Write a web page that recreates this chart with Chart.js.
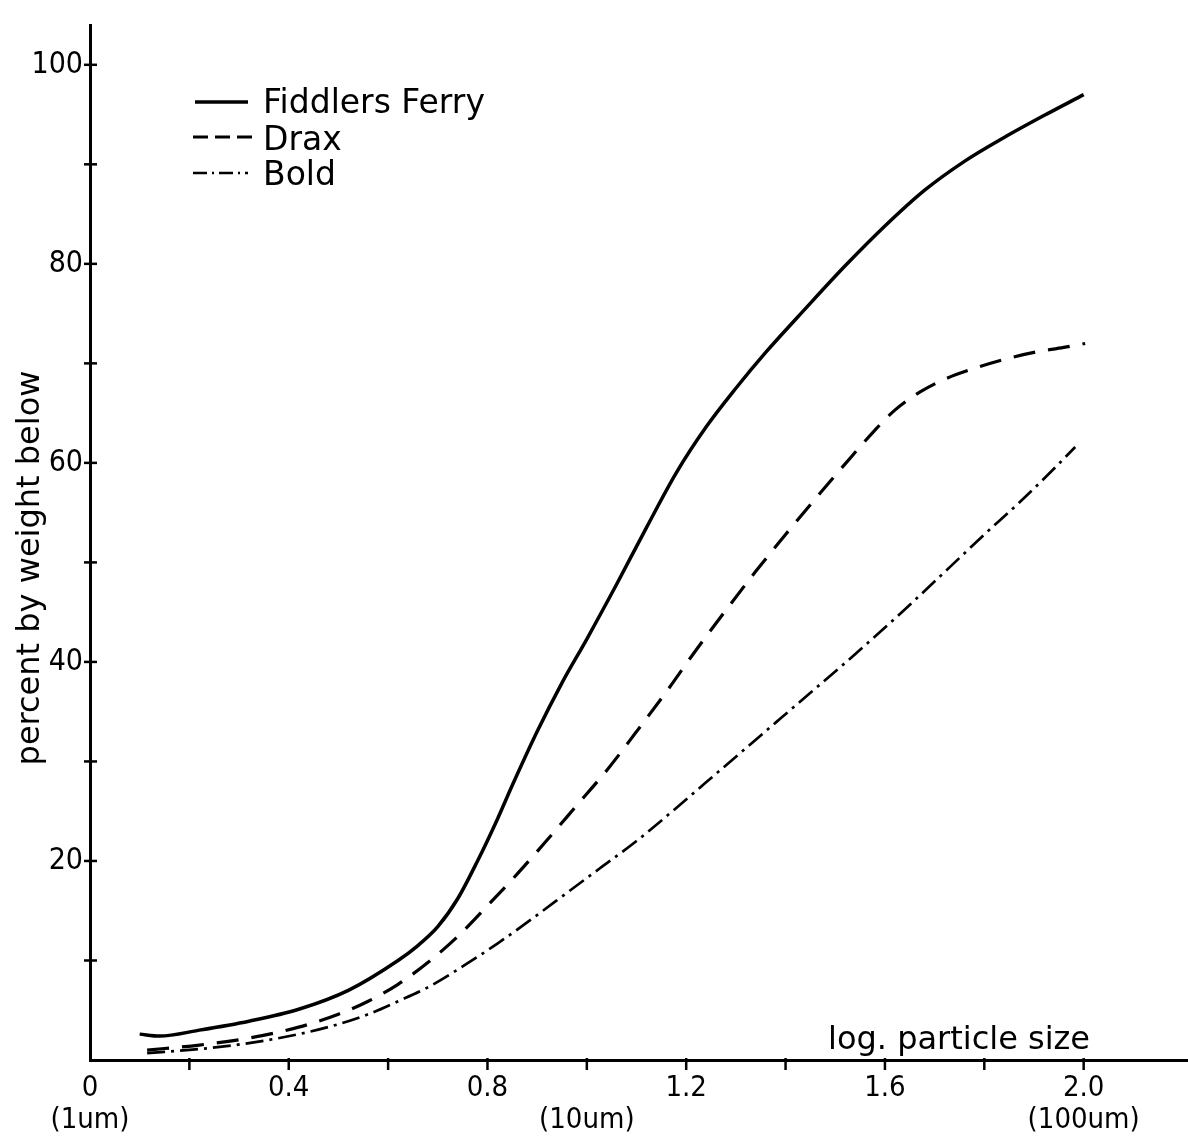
<!DOCTYPE html>
<html>
<head>
<meta charset="utf-8">
<title>Particle size distribution</title>
<script src="https://cdn.jsdelivr.net/npm/chart.js@4/dist/chart.umd.min.js"></script>
<style>
    html, body { margin: 0; padding: 0; background: #ffffff; }
    #wrap { width: 1188px; height: 1148px; }
</style>
</head>
<body>
<div id="wrap"><canvas id="sizeChart"></canvas></div>
<script>
// values (x = log particle size, y = percent by weight below)
const seriesNames = ["Fiddlers Ferry", "Drax", "Bold"];

const fiddlersX = [0.10, 0.14, 0.22, 0.32, 0.42, 0.52, 0.62, 0.66, 0.70, 0.74, 0.78, 0.82, 0.85, 0.90, 0.95, 1.00, 1.06, 1.12, 1.18, 1.24, 1.30, 1.36, 1.44, 1.52, 1.60, 1.68, 1.76, 1.84, 1.92, 2.00];
const fiddlersY = [2.6, 2.4, 3.0, 3.9, 5.1, 7.0, 10.0, 11.5, 13.4, 16.2, 20.0, 24.2, 27.6, 33.0, 37.9, 42.3, 47.8, 53.5, 59.0, 63.6, 67.5, 71.1, 75.5, 79.8, 83.8, 87.4, 90.3, 92.7, 94.9, 97.0];

const draxX = [0.115, 0.22, 0.32, 0.42, 0.50, 0.56, 0.62, 0.68, 0.74, 0.80, 0.86, 0.92, 0.98, 1.04, 1.10, 1.16, 1.22, 1.28, 1.34, 1.40, 1.46, 1.52, 1.58, 1.62, 1.67, 1.72, 1.78, 1.84, 1.90, 1.96, 2.003];
const draxY = [1.0, 1.5, 2.2, 3.3, 4.6, 5.9, 7.6, 9.8, 12.4, 15.5, 18.7, 22.1, 25.6, 29.1, 33.0, 37.0, 41.2, 45.2, 49.1, 52.8, 56.4, 59.9, 63.3, 65.3, 67.1, 68.4, 69.5, 70.4, 71.1, 71.6, 72.0];

const boldX = [0.115, 0.22, 0.32, 0.42, 0.50, 0.56, 0.62, 0.68, 0.75, 0.82, 0.89, 0.96, 1.03, 1.10, 1.17, 1.24, 1.31, 1.38, 1.45, 1.52, 1.59, 1.66, 1.73, 1.80, 1.87, 1.93, 1.983];
const boldY = [0.7, 1.1, 1.7, 2.6, 3.6, 4.6, 5.9, 7.3, 9.4, 11.7, 14.2, 16.8, 19.4, 22.0, 24.9, 27.9, 30.9, 33.9, 36.9, 39.9, 43.0, 46.2, 49.5, 52.8, 56.0, 58.9, 61.6];

const xTickValues = [0, 0.2, 0.4, 0.6, 0.8, 1.0, 1.2, 1.4, 1.6, 1.8, 2.0];
const xTickLabels = [["0", "(1um)"], "", "0.4", "", "0.8", ["", "(10um)"], "1.2", "", "1.6", "", ["2.0", "(100um)"]];
const yTickValues = [10, 20, 30, 40, 50, 60, 70, 80, 90, 100];
const yTickLabels = ["", "20", "", "40", "", "60", "", "80", "", "100"];

const xTitle = "log. particle size";
const yTitle = "percent by weight below";

document.addEventListener("DOMContentLoaded", function () {
    const textFont = "'DejaVu Sans', sans-serif";
    const tickFont = "'Liberation Sans Narrow', 'DejaVu Sans Condensed', 'Liberation Sans', sans-serif";

    function toPoints(xs, ys) {
        return xs.map((x, i) => ({ x: x, y: ys[i] }));
    }

    // tick marks, axis titles and the legend box are drawn here
    const paperPlugin = {
        id: "paper",
        afterDraw(chart) {
            const ctx = chart.ctx;
            const xs = chart.scales.x;
            const ys = chart.scales.y;
            const area = chart.chartArea;
            ctx.save();
            ctx.strokeStyle = "#000";
            ctx.lineWidth = 2.5;
            ctx.setLineDash([]);

            xTickValues.forEach(v => {
                if (v === 0) return;
                const px = xs.getPixelForValue(v);
                ctx.beginPath();
                ctx.moveTo(px, area.bottom - 2);
                ctx.lineTo(px, area.bottom + 10);
                ctx.stroke();
            });
            yTickValues.forEach(v => {
                const py = ys.getPixelForValue(v);
                ctx.beginPath();
                ctx.moveTo(area.left - 6, py);
                ctx.lineTo(area.left + 7, py);
                ctx.stroke();
            });

            ctx.fillStyle = "#000";
            ctx.font = "32px " + textFont;
            ctx.textAlign = "left";
            ctx.textBaseline = "alphabetic";
            ctx.fillText(xTitle, 828, 1049);

            ctx.save();
            ctx.translate(31, 568);
            ctx.rotate(-Math.PI / 2);
            ctx.textAlign = "center";
            ctx.textBaseline = "middle";
            ctx.fillText(yTitle, 0, 0);
            ctx.restore();

            // legend
            const legendDash = [[], [15, 7], [14, 5, 2, 5]];
            const rowY = [102, 137, 173];
            const rowX = [[195, 248], [193, 252], [193, 248]];
            const baseY = [113, 150, 185];
            ctx.font = "33px " + textFont;
            chart.data.datasets.forEach((ds, i) => {
                ctx.lineWidth = ds.borderWidth;
                ctx.setLineDash(legendDash[i]);
                ctx.beginPath();
                ctx.moveTo(rowX[i][0], rowY[i]);
                ctx.lineTo(rowX[i][1], rowY[i]);
                ctx.stroke();
                ctx.setLineDash([]);
                ctx.fillText(ds.label, 263, baseY[i]);
            });
            ctx.restore();
        }
    };

    const lineStyle = {
        borderColor: "#000",
        backgroundColor: "#000",
        pointRadius: 0,
        fill: false,
        cubicInterpolationMode: "monotone",
        borderCapStyle: "butt"
    };

    new Chart(document.getElementById("sizeChart").getContext("2d"), {
        type: "line",
        data: {
            datasets: [
                Object.assign({ label: seriesNames[0], data: toPoints(fiddlersX, fiddlersY), borderWidth: 3.5, borderDash: [] }, lineStyle),
                Object.assign({ label: seriesNames[1], data: toPoints(draxX, draxY), borderWidth: 3.2, borderDash: [22, 13] }, lineStyle),
                Object.assign({ label: seriesNames[2], data: toPoints(boldX, boldY), borderWidth: 2.7, borderDash: [18, 6, 3, 6] }, lineStyle)
            ]
        },
        options: {
            responsive: true,
            maintainAspectRatio: false,
            animation: false,
            layout: { padding: { top: 15, right: 0, bottom: 0, left: 0 } },
            plugins: {
                legend: { display: false },
                tooltip: { enabled: false }
            },
            scales: {
                x: {
                    type: "linear",
                    min: 0,
                    max: 2.21,
                    afterBuildTicks(scale) {
                        scale.ticks = xTickValues.map(v => ({ value: v }));
                    },
                    afterFit(scale) {
                        scale.height = 88;
                    },
                    grid: { display: false, drawTicks: false },
                    border: { display: true, color: "#000", width: 3 },
                    ticks: {
                        autoSkip: false,
                        maxRotation: 0,
                        minRotation: 0,
                        padding: 12,
                        color: "#000",
                        font: { family: tickFont, size: 29, lineHeight: 1.12 },
                        callback: (value, index) => xTickLabels[index]
                    }
                },
                y: {
                    type: "linear",
                    min: 0,
                    max: 104,
                    afterBuildTicks(scale) {
                        scale.ticks = yTickValues.map(v => ({ value: v }));
                    },
                    afterFit(scale) {
                        scale.width = 90;
                    },
                    grid: { display: false, drawTicks: false },
                    border: { display: true, color: "#000", width: 3 },
                    ticks: {
                        autoSkip: false,
                        padding: 7,
                        color: "#000",
                        font: { family: tickFont, size: 30 },
                        callback: (value, index) => yTickLabels[index]
                    }
                }
            }
        },
        plugins: [paperPlugin]
    });
});
</script>
</body>
</html>
